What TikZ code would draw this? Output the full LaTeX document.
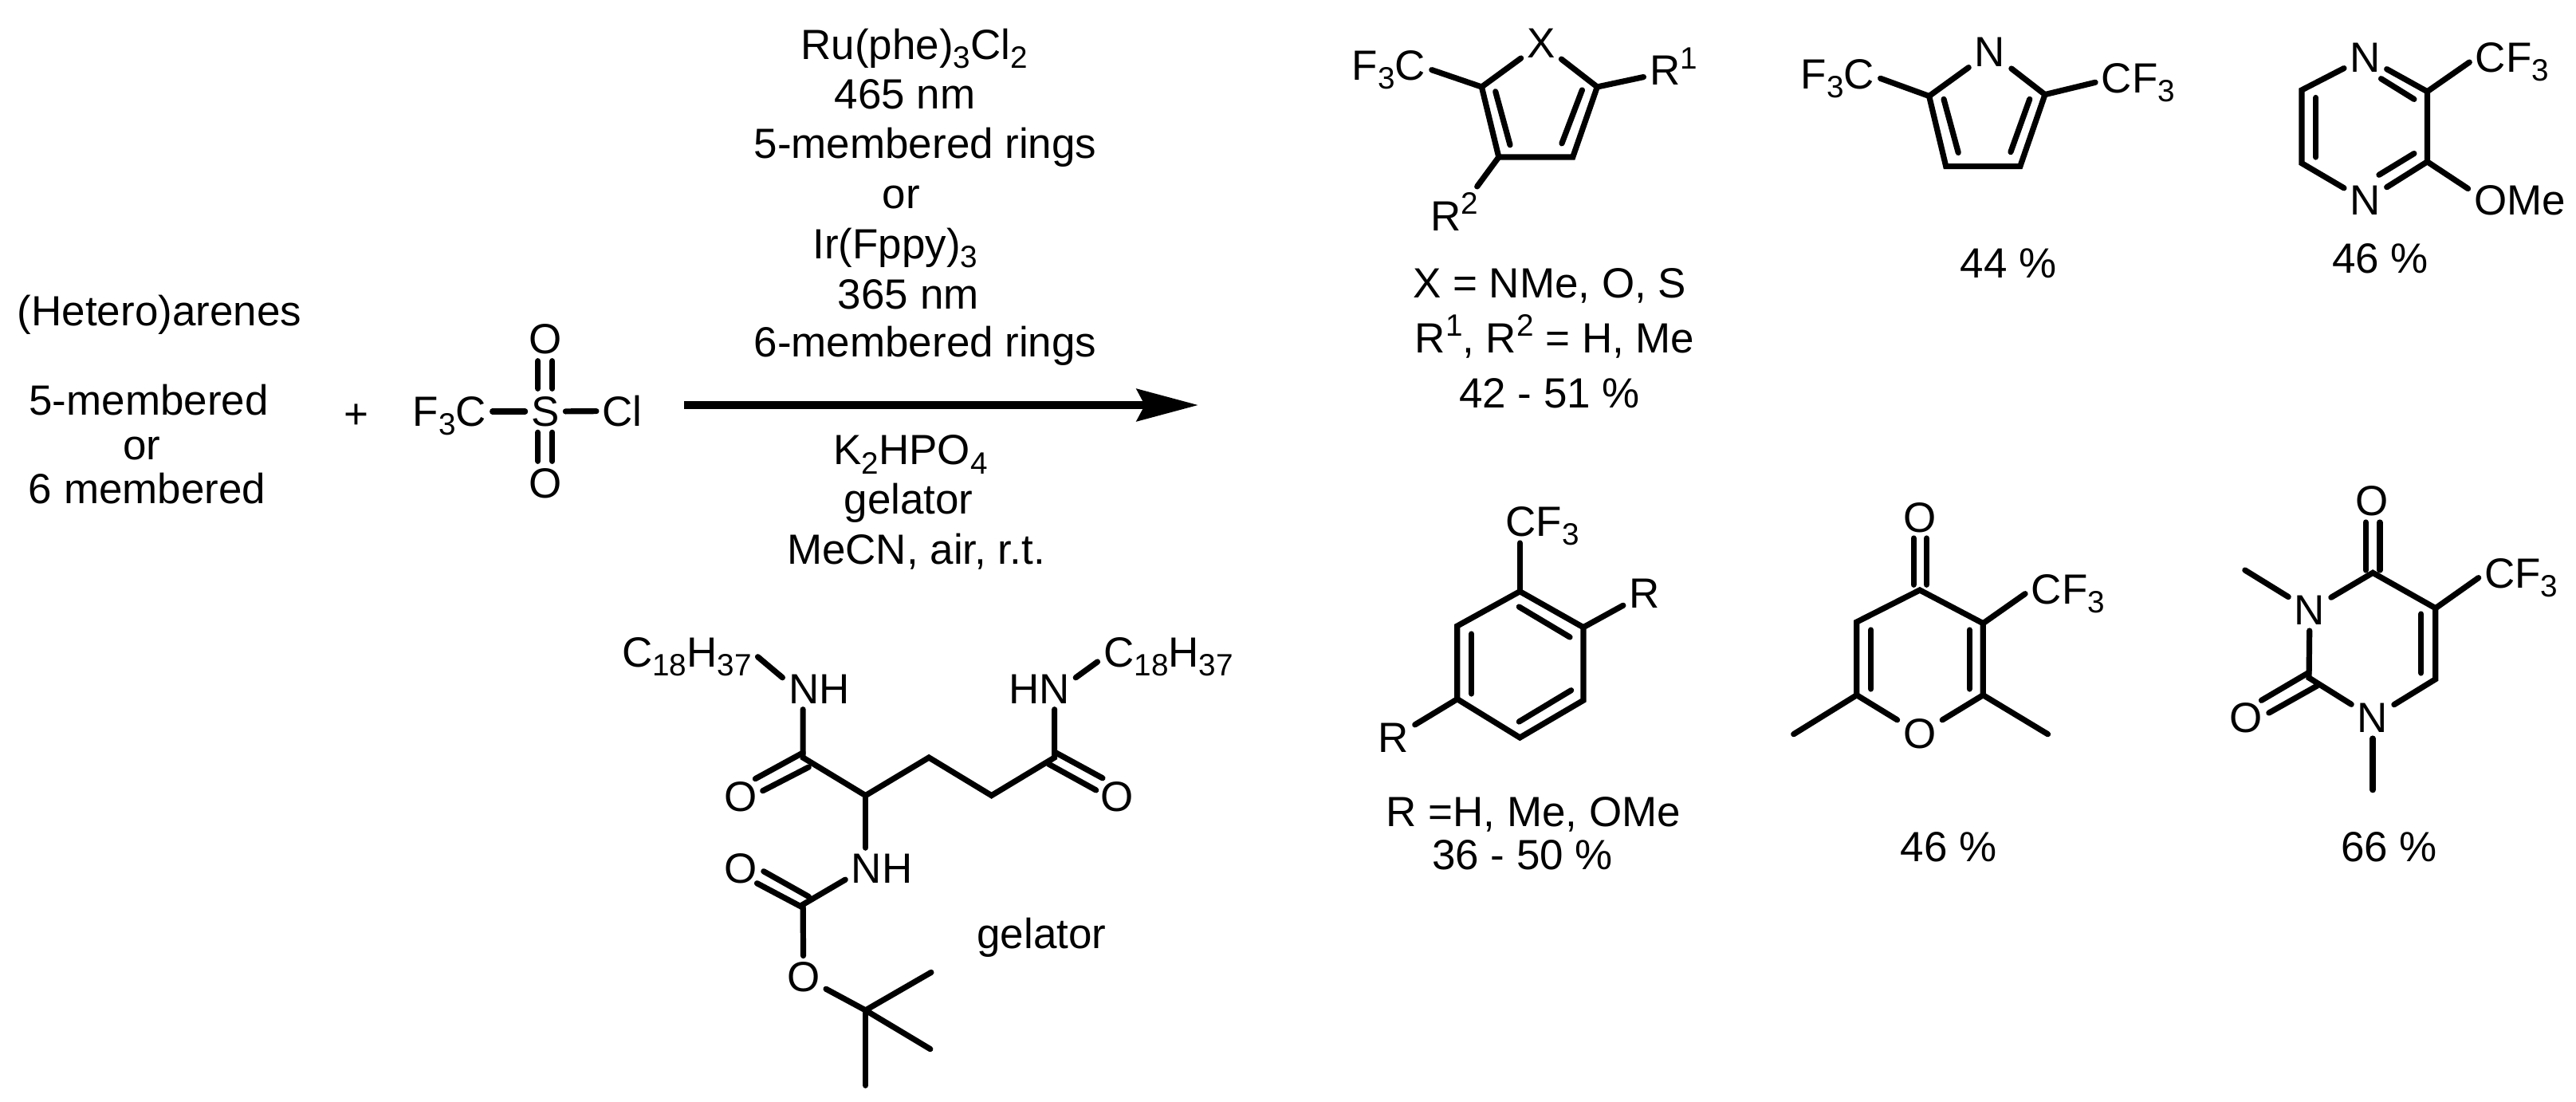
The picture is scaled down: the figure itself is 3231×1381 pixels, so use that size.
\documentclass[tikz,border=0pt]{standalone}
\usepackage{fontspec}
\setmainfont{Liberation Sans}
\usetikzlibrary{arrows.meta}

\newcommand{\subs}[1]{\raisebox{-3.2pt}{\fontsize{11}{11}\selectfont #1}}
\newcommand{\sups}[1]{\raisebox{5.8pt}{\fontsize{11}{11}\selectfont #1}}

\tikzset{
	lab/.style={anchor=base,inner sep=0.07cm},
	bond/.style={line width=0.072cm,line cap=round},
	rxnarrow/.style={line width=0.095cm,-{Stealth[length=0.77cm,width=0.4cm,inset=0.1cm]}}
}

\begin{document}
\begin{tikzpicture}[x=0.01cm,y=-0.01cm,font=\fontsize{15.06}{18}\selectfont]
	
	\useasboundingbox (0,0) rectangle (3231,1381);
	
	\node[lab] (arenes) at (200,408) {(Hetero)arenes};
	\node[lab] (five) at (186.5,520) {5-membered};
	\node[lab] (orleft) at (177.7,576) {or};
	\node[lab] (six) at (184.6,631.7) {6 membered};
	\node[lab] (plus) at (447,537) {+};
	
	\node[lab] (tfc) at (563.9,534.3) {F\subs{3}C};
	\node[lab] (s) at (684,534.3) {S};
	\node[lab] (cl) at (780.6,534.3) {Cl};
	\node[lab] (sot) at (684,443.3) {O};
	\node[lab] (sob) at (684,624.3) {O};
	\coordinate (st1) at (674.7,452.7);
	\coordinate (st2) at (674.7,487.3);
	\coordinate (st3) at (692.8,452.7);
	\coordinate (st4) at (692.8,487.3);
	\coordinate (sb1) at (674.7,542.3);
	\coordinate (sb2) at (674.7,578.3);
	\coordinate (sb3) at (692.8,542.3);
	\coordinate (sb4) at (692.8,578.3);
	\draw[bond] (s) -- (s -| tfc.east);
	\draw[bond] (s) -- (cl);
	\draw[bond] (st1) -- (st2);
	\draw[bond] (st3) -- (st4);
	\draw[bond] (sb1) -- (sb2);
	\draw[bond] (sb3) -- (sb4);
	
	\node[lab] (ru) at (1146.6,74.6) {Ru(phe)\subs{3}Cl\subs{2}};
	\node[lab] (nma) at (1135,136.9) {465 nm};
	\node[lab] (ringa) at (1160.6,198.2) {5-membered rings};
	\node[lab] (orcond) at (1130.1,261) {or};
	\node[lab] (ir) at (1122.8,324.7) {Ir(Fppy)\subs{3}};
	\node[lab] (nmb) at (1139.3,387) {365 nm};
	\node[lab] (ringb) at (1160.6,447.4) {6-membered rings};
	\node[lab] (base) at (1142,582.8) {K\subs{2}HPO\subs{4}};
	\node[lab] (gelcond) at (1139.6,644.2) {gelator};
	\node[lab] (solv) at (1149,707) {MeCN, air, r.t.};
	\coordinate (arl) at (858,508);
	\coordinate (arr) at (1503,508);
	\draw[rxnarrow] (arl) -- (arr);
	
	\node[lab] (cla) at (861.5,836.4) {C\subs{18}H\subs{37}};
	\node[lab] (nha) at (1027.4,882) {NH};
	\node[lab] (oa) at (929.2,1017.4) {O};
	\node[lab] (nhm) at (1106.2,1107.3) {NH};
	\node[lab] (ocb) at (929.2,1107.3) {O};
	\node[lab] (ob) at (1007.7,1243.2) {O};
	\node[lab] (hnb) at (1303.3,882) {HN};
	\node[lab] (clb) at (1465.5,836.4) {C\subs{18}H\subs{37}};
	\node[lab] (oc) at (1401,1017.4) {O};
	\node[lab] (gel) at (1306.4,1189.7) {gelator};
	\coordinate (g1) at (1007.1,950);
	\coordinate (g2) at (1085.6,997.6);
	\coordinate (g3) at (1165.1,950);
	\coordinate (g4) at (1243.6,997.6);
	\coordinate (g5) at (1322.6,950);
	\coordinate (g1a) at (1007.1,944);
	\coordinate (g1b) at (947.4,976.6);
	\coordinate (g1c) at (1014.3,962);
	\coordinate (g1d) at (956.7,991.7);
	\coordinate (g5a) at (1322.6,943);
	\coordinate (g5b) at (1382.9,975.8);
	\coordinate (g5c) at (1315,958);
	\coordinate (g5d) at (1374.7,990.9);
	\coordinate (cb) at (1007.1,1134.3);
	\coordinate (cba) at (1014.3,1124.4);
	\coordinate (cbb) at (957.8,1092.7);
	\coordinate (cbc) at (1007.1,1138.2);
	\coordinate (cbd) at (949.5,1107.7);
	\coordinate (tb) at (1085.6,1266.9);
	\coordinate (tba) at (1167.9,1219.4);
	\coordinate (tbb) at (1166.8,1315.6);
	\coordinate (tbc) at (1085.6,1361.2);
	\draw[bond] (cla.east) -- (nha.163);
	\draw[bond] (g1 |- nha.south) -- (g1) -- (g2) -- (g3) -- (g4) -- (g5) -- (g5 |- hnb.south);
	\draw[bond] (g1a) -- (g1b);
	\draw[bond] (g1c) -- (g1d);
	\draw[bond] (g5a) -- (g5b);
	\draw[bond] (g5c) -- (g5d);
	\draw[bond] (hnb.17) -- (clb.184);
	\draw[bond] (g2) -- (g2 |- nhm.north);
	\draw[bond] (nhm.197) -- (cb) -- (ob) -- (tb) -- (tba);
	\draw[bond] (cba) -- (cbb);
	\draw[bond] (cbc) -- (cbd);
	\draw[bond] (tb) -- (tbb);
	\draw[bond] (tb) -- (tbc);
	
	\node[lab] (x) at (1933,72.7) {X};
	\node[lab] (fa) at (1742,100.3) {F\subs{3}C};
	\node[lab] (ra) at (2099,106.4) {R\sups{1}};
	\node[lab] (rb) at (1824.4,289) {R\sups{2}};
	\node[lab] (xtxt) at (1943.6,373) {X = NMe, O, S};
	\node[lab] (rtxt) at (1950,442) {R\sups{1}, R\sups{2} = H, Me};
	\node[lab] (ya) at (1943.6,511) {42 - 51 \%};
	\coordinate (ha) at (1858.4,109);
	\coordinate (hb) at (1879.8,197);
	\coordinate (hc) at (1972.7,197);
	\coordinate (hd) at (2003.3,109);
	\coordinate (hai) at (1875.7,114.8);
	\coordinate (hbi) at (1894,181.8);
	\coordinate (hci) at (1958.9,179.9);
	\coordinate (hdi) at (1984.4,112.9);
	\draw[bond] (x) -- (ha) -- (hb) -- (hc) -- (hd) -- (x);
	\draw[bond] (hai) -- (hbi);
	\draw[bond] (hci) -- (hdi);
	\draw[bond] (fa.east) -- (ha);
	\draw[bond] (hd) -- (ra.200);
	\draw[bond] (hb) -- (rb.48);
	
	\node[lab] (n) at (2496,83.4) {N};
	\node[lab] (fb) at (2304.8,111) {F\subs{3}C};
	\node[lab] (cfb) at (2681.8,116) {CF\subs{3}};
	\node[lab] (yb) at (2519,348) {44 \%};
	\coordinate (pa) at (2419.6,120.5);
	\coordinate (pb) at (2440.7,208.6);
	\coordinate (pc) at (2533.8,208.6);
	\coordinate (pd) at (2564.9,118.6);
	\coordinate (pai) at (2438,124.4);
	\coordinate (pbi) at (2456.2,191.4);
	\coordinate (pci) at (2521.9,190.6);
	\coordinate (pdi) at (2545.7,124.4);
	\draw[bond] (n) -- (pa) -- (pb) -- (pc) -- (pd) -- (n);
	\draw[bond] (pai) -- (pbi);
	\draw[bond] (pci) -- (pdi);
	\draw[bond] (fb.east) -- (pa);
	\draw[bond] (pd) -- (cfb.west);
	
	\node[lab] (nt) at (2966.8,90) {N};
	\node[lab] (nb) at (2966.8,269.8) {N};
	\node[lab] (cfc) at (3151,90.7) {CF\subs{3}};
	\node[lab] (ome) at (3160.6,269.8) {OMe};
	\node[lab] (yc) at (2985.7,342.5) {46 \%};
	\coordinate (za) at (2887,112.9);
	\coordinate (zb) at (2887,204.7);
	\coordinate (zc) at (3044.4,202.8);
	\coordinate (zd) at (3044.4,114.8);
	\coordinate (zai) at (2904.7,122.5);
	\coordinate (zbi) at (2904.7,197);
	\coordinate (zci) at (3027.9,192.5);
	\coordinate (zcj) at (2983.9,219.3);
	\coordinate (zdi) at (3027.9,124.4);
	\coordinate (zdj) at (2986.5,98.7);
	\draw[bond] (nt) -- (za) -- (zb) -- (nb);
	\draw[bond] (nb) -- (zc) -- (zd) -- (nt);
	\draw[bond] (zai) -- (zbi);
	\draw[bond] (zci) -- (zcj);
	\draw[bond] (zdi) -- (zdj);
	\draw[bond] (zd) -- (cfc.west);
	\draw[bond] (zc) -- (ome.167);
	
	\node[lab] (cfd) at (1934.6,672.7) {CF\subs{3}};
	\node[lab] (rc) at (2062.7,762.7) {R};
	\node[lab] (rd) at (1747.9,943.3) {R};
	\node[lab] (rtxtb) at (1923.2,1036.7) {R =H, Me, OMe};
	\node[lab] (yd) at (1909.4,1090) {36 - 50 \%};
	\coordinate (cfe) at (1906.3,681);
	\coordinate (ba) at (1906.3,741.7);
	\coordinate (bb) at (1985.9,786.7);
	\coordinate (bc) at (1985.9,878.3);
	\coordinate (bd) at (1906.3,925);
	\coordinate (be) at (1827.8,876.7);
	\coordinate (bf) at (1827.8,785);
	\coordinate (bai) at (1905.3,761);
	\coordinate (bbi) at (1969,799);
	\coordinate (bci) at (1970.6,865.7);
	\coordinate (bdi) at (1905.3,905);
	\coordinate (bei) at (1845.6,870);
	\coordinate (bfi) at (1845.6,795);
	\draw[bond] (ba) -- (bb) -- (bc) -- (bd) -- (be) -- (bf) -- cycle;
	\draw[bond] (bai) -- (bbi);
	\draw[bond] (bci) -- (bdi);
	\draw[bond] (bei) -- (bfi);
	\draw[bond] (ba) -- (cfe);
	\draw[bond] (bb) -- (rc);
	\draw[bond] (be) -- (rd);
	
	\node[lab] (oe) at (2407.9,667.7) {O};
	\node[lab] (or) at (2407.9,938.3) {O};
	\node[lab] (cfg) at (2593.8,757.3) {CF\subs{3}};
	\node[lab] (ye) at (2443.9,1080) {46 \%};
	\coordinate (ya1) at (2407.9,740);
	\coordinate (ya2) at (2328.8,780);
	\coordinate (ya3) at (2328.8,871.7);
	\coordinate (ya4) at (2487.3,871.7);
	\coordinate (ya5) at (2487.3,781.7);
	\coordinate (ya6) at (2249.7,920.7);
	\coordinate (ya7) at (2568.5,920.7);
	\coordinate (ya2i) at (2346.6,790);
	\coordinate (ya3i) at (2346.6,864);
	\coordinate (ya4i) at (2470.2,864);
	\coordinate (ya5i) at (2470.2,790);
	\coordinate (yo1) at (2400.2,675);
	\coordinate (yo2) at (2400.2,733.3);
	\coordinate (yo3) at (2416.5,675);
	\coordinate (yo4) at (2416.5,733.3);
	\draw[bond] (or) -- (ya3) -- (ya2) -- (ya1) -- (ya5) -- (ya4) -- (or);
	\draw[bond] (ya2i) -- (ya3i);
	\draw[bond] (ya4i) -- (ya5i);
	\draw[bond] (yo1) -- (yo2);
	\draw[bond] (yo3) -- (yo4);
	\draw[bond] (ya3) -- (ya6);
	\draw[bond] (ya4) -- (ya7);
	\draw[bond] (ya5) -- (cfg.west);
	
	\node[lab] (ot) at (2975,646.7) {O};
	\node[lab] (ntop) at (2897,783.3) {N};
	\node[lab] (nbot) at (2976,918.3) {N};
	\node[lab] (ol) at (2817.3,918.3) {O};
	\node[lab] (cfh) at (3162.4,737.3) {CF\subs{3}};
	\node[lab] (yf) at (2996.6,1080.7) {66 \%};
	\coordinate (ua) at (2976.1,718.3);
	\coordinate (ub) at (3054.8,762.7);
	\coordinate (uc) at (3054.8,851.7);
	\coordinate (ud) at (2896,850);
	\coordinate (ubi) at (3036.7,770);
	\coordinate (uci) at (3036.7,844);
	\coordinate (ume) at (2815.8,715);
	\coordinate (umf) at (2976,990.7);
	\coordinate (uo1) at (2967.3,655);
	\coordinate (uo2) at (2967.3,715);
	\coordinate (uo3) at (2984.9,655);
	\coordinate (uo4) at (2984.9,715);
	\coordinate (uo5) at (2896,843.3);
	\coordinate (uo6) at (2836.4,878.3);
	\coordinate (uo7) at (2906.3,860);
	\coordinate (uo8) at (2845.8,894);
	\draw[bond] (ntop) -- (ua) -- (ub) -- (uc) -- (nbot);
	\draw[bond] (ntop) -- (ud) -- (nbot);
	\draw[bond] (ubi) -- (uci);
	\draw[bond] (uo1) -- (uo2);
	\draw[bond] (uo3) -- (uo4);
	\draw[bond] (uo5) -- (uo6);
	\draw[bond] (uo7) -- (uo8);
	\draw[bond] (ntop) -- (ume);
	\draw[bond] (nbot) -- (umf);
	\draw[bond] (ub) -- (cfh.west);
	
\end{tikzpicture}
\end{document}
